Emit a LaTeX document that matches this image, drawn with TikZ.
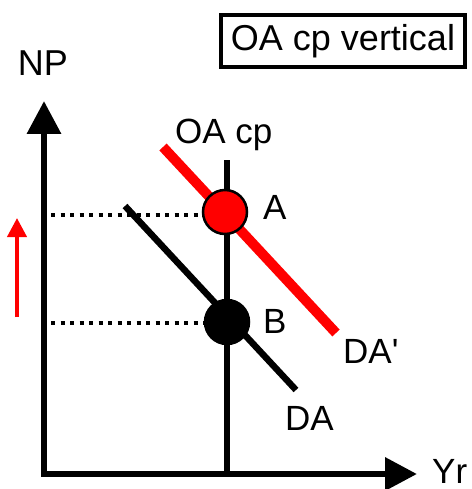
\documentclass[tikz,border=0pt]{standalone}
\usepackage{fontspec}
\setmainfont{Liberation Sans}[Ligatures=TeXOff]
\usetikzlibrary{arrows.meta}
\usetikzlibrary{positioning}
\tikzset{lbl/.style = {font=\fontsize{35}{40}\selectfont, inner sep=0pt}}
\tikzset{axis/.style = {line width=6.5pt}}
\tikzset{dotline/.style = {line width=4pt, dash pattern=on 4pt off 5.5pt}}
\tikzset{pt/.style = {circle, draw, line width=2.5pt, minimum size=44pt, inner sep=0pt}}

\begin{document}
\begin{tikzpicture}[x=1pt, y=-1pt]
      \useasboundingbox (0, 0) rectangle (471, 489);

      % axes
      \coordinate (ytip) at (44, 101);
      \coordinate (O) at (44, 474);
      \coordinate (xtip) at (417, 474);
      \draw [axis, {Triangle[length=33pt, width=33pt]}-{Triangle[length=32pt, width=32pt]}]
            (ytip) -- (O) -- (xtip);
      \node [lbl, font=\fontsize{36}{40}\selectfont] (np) at (43, 63) {NP};
      \node [lbl, anchor=base west] (yr) at (432, 483) {Yr};

      % OA cp
      \coordinate (oatop) at (227, 160);
      \coordinate (oabot) at (227, 474);
      \draw [axis] (oatop) -- (oabot);
      \node [lbl, anchor=base west] (oa) at (175, 143) {OA cp};

      % demand curves
      \coordinate (da2a) at (163, 147);
      \coordinate (da2b) at (336, 333);
      \draw [red, line width=10pt] (da2a) -- (da2b);
      \coordinate (da1a) at (125, 206);
      \coordinate (da1b) at (296, 390);
      \draw [line width=6.5pt] (da1a) -- (da1b);
      \node [lbl, anchor=base west] (da2) at (343, 363) {DA'};
      \node [lbl, anchor=base west] (da1) at (285, 430) {DA};

      % equilibria
      \node [pt, fill=red] (A) at (225, 212) {};
      \node [pt, fill=black] (B) at (227, 322) {};
      \coordinate (pa) at (51, 215);
      \coordinate (pb) at (51, 323);
      \draw [dotline] (pa) -- (pa -| A.west);
      \draw [dotline] (pb) -- (pb -| B.west);
      \node [lbl, anchor=base west] (la) at (263, 219) {A};
      \node [lbl, anchor=base west] (lb) at (263, 333) {B};

      % price rise
      \coordinate (up0) at (17, 317);
      \coordinate (up1) at (17, 218);
      \draw [red, line width=4pt, -{Triangle[length=19pt, width=19pt]}] (up0) -- (up1);

      \node [lbl, font=\fontsize{36}{40}\selectfont, draw, line width=4pt,
             minimum width=244pt, minimum height=52pt]
            (title) at (343, 41) {OA cp vertical};
    \end{tikzpicture}
\end{document}
